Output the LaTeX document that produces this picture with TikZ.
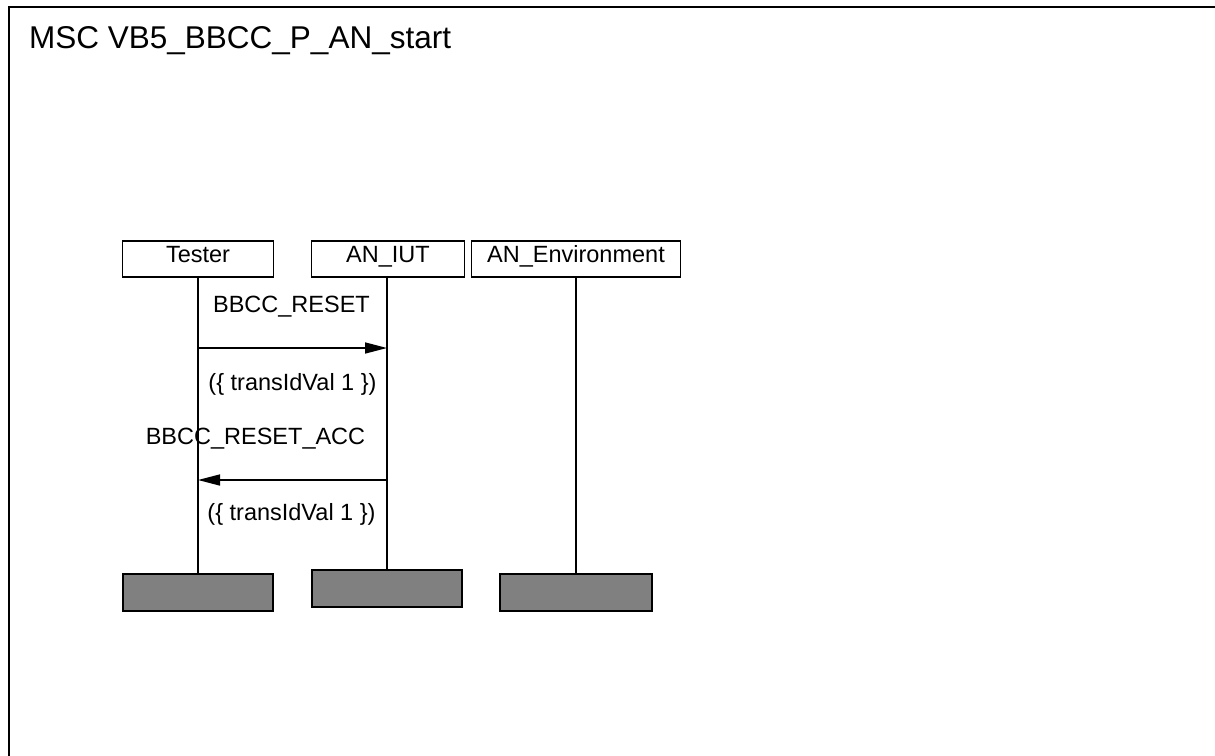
\documentclass[tikz,border=0pt]{standalone}
\usepackage{fontspec}
\setmainfont{Liberation Sans}
\usepackage{tikz}
\usetikzlibrary{arrows.meta,positioning}
\definecolor{endgray}{HTML}{808080}
\newcommand{\lblfont}{\fontsize{23.5}{28}\selectfont}
\tikzset{
  frame/.style={draw=black, line width=1.5pt},
  headbox/.style={rectangle, draw=black, fill=white, line width=1.5pt, inner sep=0pt,
                  minimum height=36pt, text height=16pt, text depth=10pt, font=\lblfont},
  endbox/.style={rectangle, draw=black, fill=endgray, line width=1.5pt, inner sep=0pt,
                 minimum height=37pt},
  lifeline/.style={draw=black, line width=1.5pt},
  msg/.style={-{Triangle[length=22pt, width=11pt]}, draw=black, line width=1.5pt},
  lbl/.style={font=\lblfont, inner sep=0pt, anchor=base},
  titletext/.style={font=\fontsize{31.5}{38}\selectfont, inner sep=0pt, anchor=base west}
}
\begin{document}
\begin{tikzpicture}[x=1pt, y=-1pt]
      \useasboundingbox (0,0) rectangle (1215,755);
      \draw[frame] (1216,7) -- (9,7) -- (9,756);
      \node[titletext] (title) at (29,48) {MSC VB5\_BBCC\_P\_AN\_start};
      \node[headbox, minimum width=151pt] (tester) at (198,259) {Tester};
      \node[headbox, minimum width=153pt] (iut) at (388,259) {AN\_IUT};
      \node[headbox, minimum width=209pt] (env) at (576,259) {AN\_Environment};
      \node[endbox, minimum width=150pt] (testerend) at (198,592.5) {};
      \node[endbox, minimum width=150pt] (iutend) at (387,588.5) {};
      \node[endbox, minimum width=152pt] (envend) at (576,592.5) {};
      \draw[lifeline] (tester.south -| testerend.north) -- (testerend.north);
      \draw[lifeline] (iut.south -| iutend.north) -- (iutend.north);
      \draw[lifeline] (env.south -| envend.north) -- (envend.north);
      \coordinate (y1) at (0,348);
      \coordinate (y2) at (0,480);
      \draw[msg] (testerend |- y1) -- node[lbl, yshift=36pt, xshift=-1pt]{BBCC\_RESET}
        node[lbl, yshift=-42pt]{(\{ transIdVal 1 \})} (iutend |- y1);
      \draw[msg] (iutend |- y2) -- node[lbl, yshift=36pt, xshift=-37pt]{BBCC\_RESET\_ACC}
        node[lbl, yshift=-40pt, xshift=-1pt]{(\{ transIdVal 1 \})} (testerend |- y2);
\end{tikzpicture}
\end{document}
